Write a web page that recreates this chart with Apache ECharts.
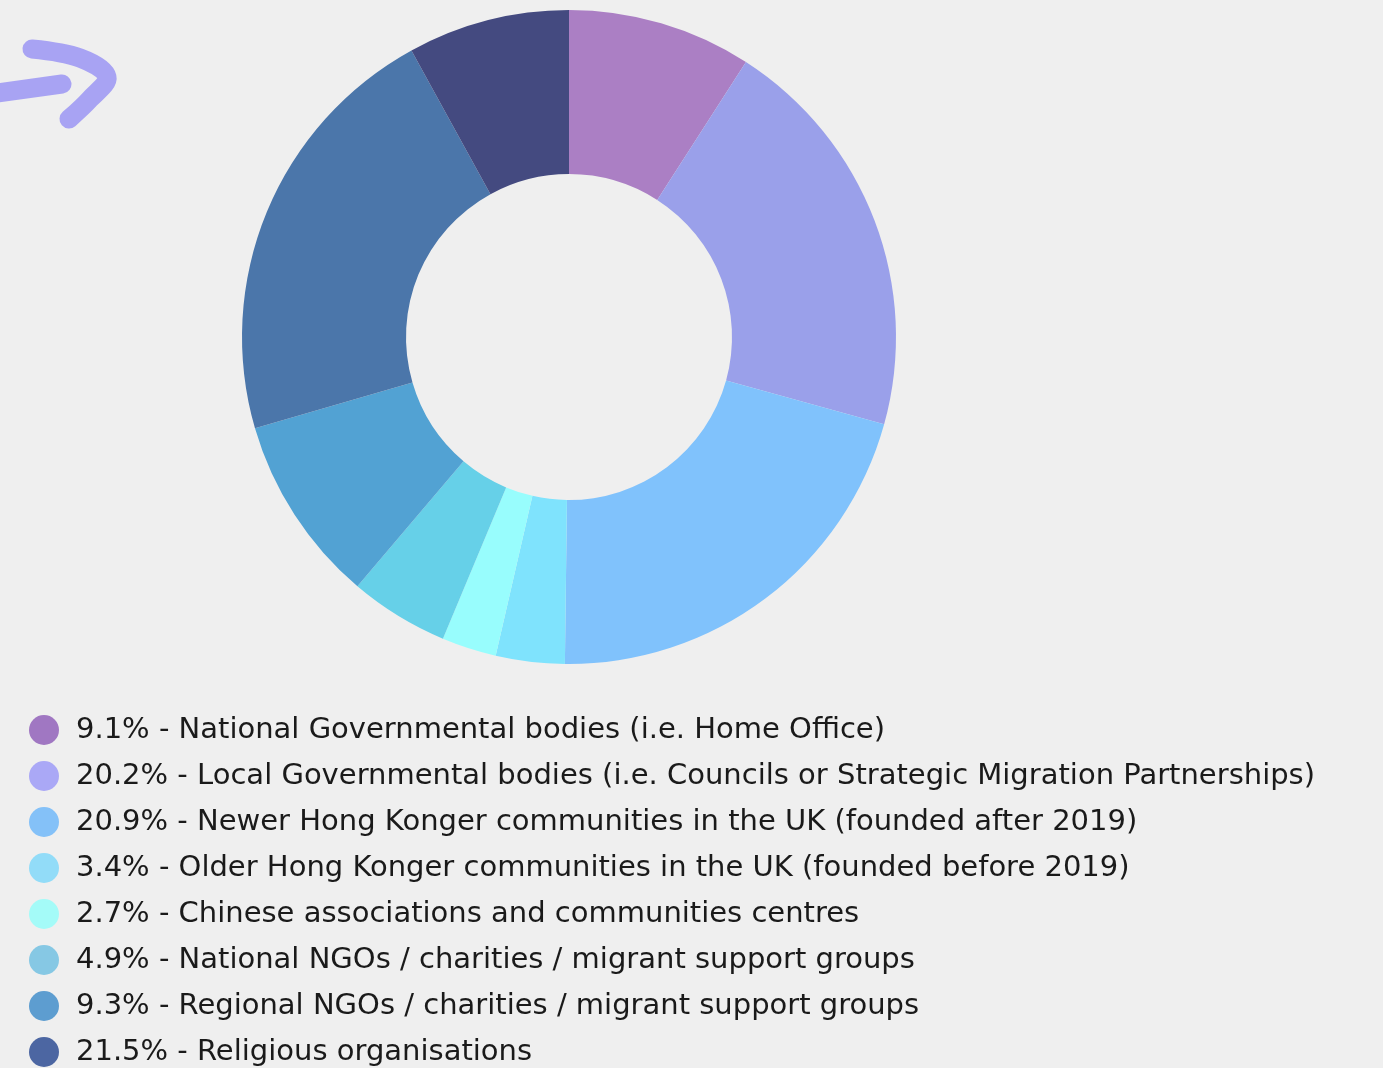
<!DOCTYPE html>
<html>
<head>
<meta charset="utf-8">
<script src="https://cdn.jsdelivr.net/npm/echarts@6/dist/echarts.min.js"></script>
<style>
html,body{margin:0;padding:0;background:#efefef;}
#chart{width:1383px;height:1068px;}
</style>
</head>
<body>
<div id="chart"></div>
<script>
const shares = [9.1, 20.2, 20.9, 3.4, 2.7, 4.9, 9.3, 21.5, 8.0];
const groups = [
  'National Governmental bodies (i.e. Home Office)',
  'Local Governmental bodies (i.e. Councils or Strategic Migration Partnerships)',
  'Newer Hong Konger communities in the UK (founded after 2019)',
  'Older Hong Konger communities in the UK (founded before 2019)',
  'Chinese associations and communities centres',
  'National NGOs / charities / migrant support groups',
  'Regional NGOs / charities / migrant support groups',
  'Religious organisations',
  'Other'
];
const colors = ['#ab7fc4', '#9aa0ea', '#80c2fc', '#7fe3fd', '#98fdfd', '#66d0e8', '#52a2d3', '#4b76aa', '#444a80'];
const legendColors = ['#a077c2', '#aaa8f6', '#84c1f8', '#92dcf8', '#a4fbf8', '#86c8e4', '#5d9dd0', '#4c66a2'];

const names = groups.map((g, i) => shares[i].toFixed(1) + '% - ' + g);
const chart = echarts.init(document.getElementById('chart'));
const arrowStyle = {
  fill: 'none',
  stroke: '#a8a3f3',
  lineWidth: 19,
  lineCap: 'round',
  lineJoin: 'round'
};
chart.setOption({
  backgroundColor: '#efefef',
  color: colors,
  animation: false,
  legend: {
    orient: 'vertical',
    left: 29,
    top: 715,
    height: 420,
    padding: 0,
    itemWidth: 30,
    itemHeight: 30,
    itemGap: 16,
    icon: 'circle',
    data: names.slice(0, 8).map((n, i) => ({ name: n, itemStyle: { color: legendColors[i] } })),
    textStyle: {
      fontFamily: 'DejaVu Sans',
      fontSize: 29,
      color: '#1a1a1a',
      lineHeight: 30,
      padding: [0, 0, 0, 12]
    }
  },
  graphic: [{
    type: 'polyline',
    shape: { points: [[-10, 94], [62, 84]] },
    style: arrowStyle
  }, {
    type: 'polyline',
    shape: { points: [[32, 49], [80, 58], [107, 77], [90, 99], [69, 119]], smooth: 0.35 },
    style: arrowStyle
  }],
  series: [{
    type: 'pie',
    center: [569, 337],
    radius: [163, 327],
    startAngle: 90,
    clockwise: true,
    label: { show: false },
    labelLine: { show: false },
    emphasis: { disabled: true },
    data: names.map((n, i) => ({ name: n, value: shares[i] }))
  }]
});
</script>
</body>
</html>
